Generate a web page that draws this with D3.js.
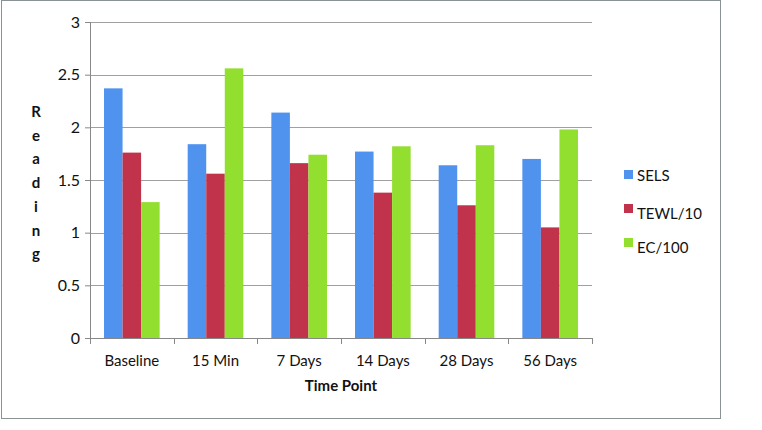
<html>
<head>
  <script src="https://d3js.org/d3.v7.min.js"></script>
</head>
<style>
  body { margin: 0; background: white; }
  text { font-family: Lato, "Open Sans", sans-serif; fill: #111; }
  .grid line { stroke: #a0a0a0; stroke-width: 1px; }
  .axis path, .axis line { stroke: #888; }
</style>
<body>
  <svg id="chart" width="762" height="430"></svg>
  <script>
    const categories = ["Baseline", "15 Min", "7 Days", "14 Days", "28 Days", "56 Days"];
    const seriesNames = ["SELS", "TEWL/10", "EC/100"];
    const sels = [2.37, 1.84, 2.14, 1.77, 1.64, 1.70];
    const tewl = [1.76, 1.56, 1.66, 1.38, 1.26, 1.05];
    const ec = [1.29, 2.56, 1.74, 1.82, 1.83, 1.98];
    const yTicks = [0, 0.5, 1, 1.5, 2, 2.5, 3];
    const colors = ["#4f93ef", "#c0334a", "#92df2f"];

    const svg = d3.select("svg#chart");
    const margin = { top: 22, right: 170, bottom: 92, left: 90 };
    const width = 762, height = 430;
    const chartWidth = width - margin.left - margin.right;
    const chartHeight = height - margin.top - margin.bottom;

    // outer frame
    svg.append("rect")
      .attr("x", 1.5).attr("y", 0.5)
      .attr("width", 719).attr("height", 418)
      .attr("fill", "white").attr("stroke", "#8a9394").attr("stroke-width", 1);

    const chartArea = svg.append("g")
      .attr("transform", `translate(${margin.left},${margin.top})`);

    const xScale = d3.scaleBand().domain(categories).range([0, chartWidth]).paddingInner(0.335).paddingOuter(0.1675);
    const xInner = d3.scaleBand().domain(seriesNames).range([0, xScale.bandwidth()]);
    const yScale = d3.scaleLinear().domain([0, 3]).range([chartHeight, 0]);

    // gridlines
    chartArea.append("g").attr("class", "grid")
      .selectAll("line").data(yTicks.filter(d => d > 0)).join("line")
      .attr("x1", 0).attr("x2", chartWidth)
      .attr("y1", d => Math.round(yScale(d)) + 0.5).attr("y2", d => Math.round(yScale(d)) + 0.5);

    const table = categories.map((c, i) => ({ cat: c, vals: [sels[i], tewl[i], ec[i]] }));

    chartArea.append("g").selectAll("g").data(table).join("g")
      .attr("transform", d => `translate(${xScale(d.cat)},0)`)
      .selectAll("rect").data(d => d.vals.map((v, j) => ({ name: seriesNames[j], v, j }))).join("rect")
      .attr("x", d => xInner(d.name))
      .attr("width", xInner.bandwidth())
      .attr("y", d => yScale(d.v))
      .attr("height", d => chartHeight - yScale(d.v))
      .attr("fill", d => colors[d.j]);

    // axes
    const leftAxis = d3.axisLeft(yScale).tickValues(yTicks).tickFormat(d3.format("")).tickSize(5).tickPadding(5);
    const yAxisG = chartArea.append("g").attr("class", "axis").call(leftAxis);
    yAxisG.select(".domain").remove();
    yAxisG.append("line").attr("x1", 0.5).attr("x2", 0.5).attr("y1", 0).attr("y2", chartHeight).attr("stroke", "#888");
    yAxisG.selectAll("text").style("font-size", "16px").attr("fill", "#111");

    const xAxisG = chartArea.append("g").attr("class", "axis")
      .attr("transform", `translate(0,${chartHeight})`);
    xAxisG.append("line").attr("x1", 0).attr("x2", chartWidth).attr("y1", 0.5).attr("y2", 0.5).attr("stroke", "#888");
    const step = xScale.step();
    xAxisG.selectAll("line.tk").data(d3.range(categories.length + 1)).join("line")
      .attr("class", "tk")
      .attr("x1", i => Math.round(i * step) + 0.5).attr("x2", i => Math.round(i * step) + 0.5)
      .attr("y1", 0).attr("y2", 6).attr("stroke", "#888");
    xAxisG.selectAll("text").data(categories).join("text")
      .attr("x", d => xScale(d) + xScale.bandwidth() / 2)
      .attr("y", 28)
      .attr("text-anchor", "middle")
      .style("font-size", "15px")
      .text(d => d);

    // axis titles
    svg.append("text")
      .attr("x", margin.left + chartWidth / 2).attr("y", 391)
      .attr("text-anchor", "middle")
      .style("font-size", "15px").style("font-weight", "bold")
      .text("Time Point");

    const yTitle = "Reading".split("");
    svg.append("g").selectAll("text").data(yTitle).join("text")
      .attr("x", 36).attr("y", (d, i) => 117 + i * 23.7)
      .attr("text-anchor", "middle")
      .style("font-size", "15px").style("font-weight", "bold")
      .text(d => d);

    // legend
    const legend = svg.append("g").attr("transform", "translate(624,0)");
    const legendY = [176, 214, 248];
    seriesNames.forEach((s, i) => {
      legend.append("rect")
        .attr("x", 0).attr("y", legendY[i] - 6 - (i > 0 ? 4 : 0))
        .attr("width", 9).attr("height", 9)
        .attr("fill", colors[i]);
      legend.append("text")
        .attr("x", 13).attr("y", legendY[i] + 5)
        .style("font-size", "15px")
        .text(s);
    });
  </script>
</body>
</html>
